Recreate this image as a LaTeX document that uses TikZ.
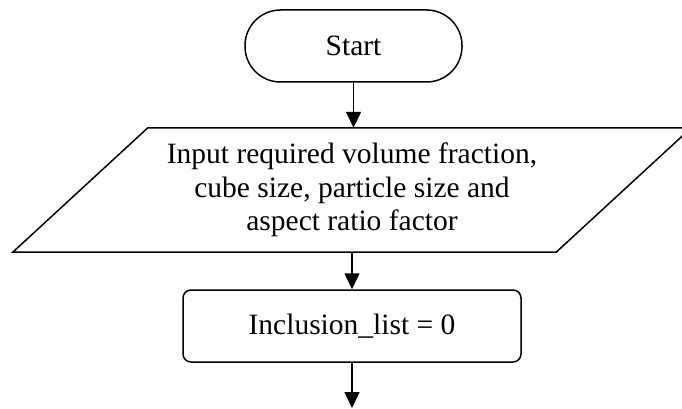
\documentclass[tikz,border=0pt]{standalone}
\usepackage{fontspec}
\setmainfont{Liberation Serif}
\usetikzlibrary{arrows.meta}

\tikzset{
  flowline/.style={line width=1.5pt, -{Triangle[length=16pt,width=15pt]}},
  terminal/.style={draw, line width=1.5pt, rounded corners=35.5pt,
    minimum width=217pt, minimum height=72pt, inner sep=0pt},
  process/.style={draw, line width=1.5pt, rounded corners=8pt,
    minimum width=338pt, minimum height=72pt, inner sep=0pt},
  iobox/.style={minimum width=543pt, minimum height=124pt, inner sep=0pt,
    align=center},
  every node/.style={font=\fontsize{29.5}{33.5}\selectfont}
}

\begin{document}
\begin{tikzpicture}[x=1pt, y=-1pt]
  \useasboundingbox (0,0) rectangle (682,409);
  \clip (0,0) rectangle (682,409);
  \fill[white] (0,0) rectangle (682,409);

  % start terminal
  \node[terminal] (start) at (353.5,46) {Start};

  % input parallelogram: text node plus its slanted outline
  \node[iobox] (input) at (352,190)
    {Input required volume fraction,\\cube size, particle size and\\aspect ratio factor};
  \draw[line width=1.5pt, line join=miter]
    ([xshift=-67.5pt]input.south west) -- ([xshift=-67.5pt]input.south east)
    -- ([xshift=67.5pt]input.north east) -- ([xshift=67.5pt]input.north west)
    -- cycle;

  % initialisation step
  \node[process] (init) at (352,326) {Inclusion\_list = 0};

  % continuation of the flow
  \coordinate (next) at (352,408);

  \draw[flowline] (start) -- (start |- input.north);
  \draw[flowline] (input) -- (init);
  \draw[flowline] (init) -- (next);
\end{tikzpicture}
\end{document}
